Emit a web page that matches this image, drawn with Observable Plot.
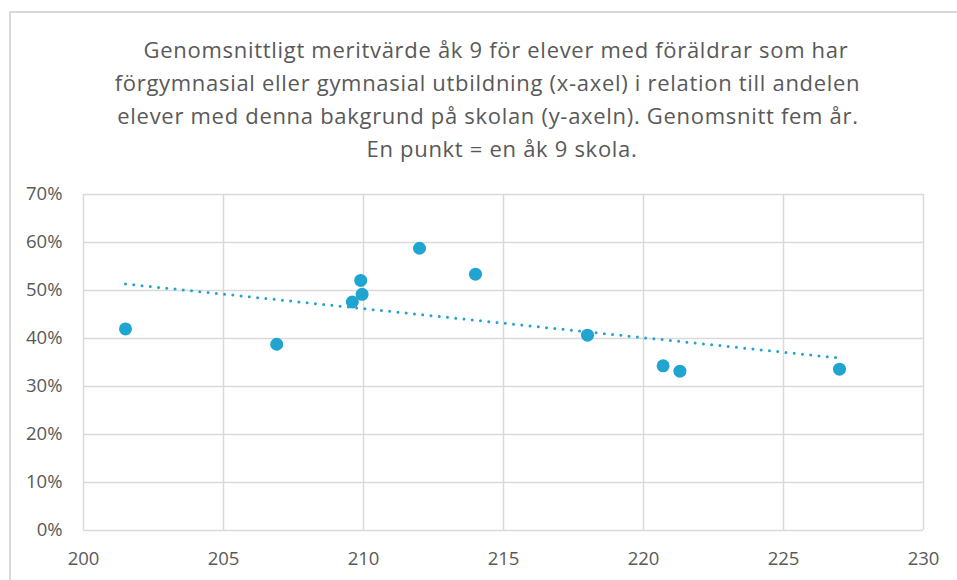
<!DOCTYPE html>
<html>
<head>
<meta charset="utf-8">
<script src="https://cdn.jsdelivr.net/npm/d3@7"></script>
<script src="https://cdn.jsdelivr.net/npm/@observablehq/plot@0.6"></script>
<style>
  html, body { margin: 0; padding: 0; background: #fff; overflow: hidden; width: 957px; height: 580px; }
  #frame { position: absolute; left: 9px; top: 11px; width: 948px; height: 569px; border-left: 2px solid #d9d9d9; border-top: 2px solid #d9d9d9; box-sizing: border-box; }
  #title { position: absolute; left: 47px; top: 33px; width: 910px; text-align: center; font-family: "Open Sans", sans-serif; font-size: 22px; letter-spacing: 0.7px; line-height: 33px; color: #595959; white-space: nowrap; }
  #title div { display: block; }
  #chart { position: absolute; left: 0; top: 175px; width: 957px; }
</style>
</head>
<body>
<div id="frame"></div>
<div id="title">
  <div style="padding-right:12px">Genomsnittligt meritvärde åk 9 för elever med föräldrar som har</div>
  <div style="padding-right:29px">förgymnasial eller gymnasial utbildning (x-axel) i relation till andelen</div>
  <div style="padding-right:28px">elever med denna bakgrund på skolan (y-axeln). Genomsnitt fem år.</div>
  <div>En punkt = en åk 9 skola.</div>
</div>
<div id="chart"></div>
<script>
// Meritvärde (x) per skola
const meritvarde = [201.5, 206.9, 209.6, 209.9, 209.95, 212.0, 214.0, 218.0, 220.7, 221.3, 227.0];
// Andel elever med denna bakgrund (y)
const andel = [0.420, 0.388, 0.476, 0.521, 0.492, 0.588, 0.534, 0.407, 0.343, 0.332, 0.336];
const xTicks = [200, 205, 210, 215, 220, 225, 230];
const yTicks = [0, 0.1, 0.2, 0.3, 0.4, 0.5, 0.6, 0.7];

const data = meritvarde.map((x, i) => ({x, y: andel[i]}));
const blue = "#1fa5cf";
const textColor = "#595959";

const chart = Plot.plot({
  width: 957,
  height: 405,
  marginTop: 19,
  marginBottom: 50,
  marginLeft: 83,
  marginRight: 34,
  style: {fontFamily: "'Open Sans', sans-serif", fontSize: "18.5px", color: textColor, background: "transparent"},
  x: {domain: [200, 230], label: null},
  y: {domain: [0, 0.7], label: null},
  marks: [
    Plot.gridX(xTicks, {stroke: "#d9d9d9", strokeOpacity: 1, strokeWidth: 1.5}),
    Plot.gridY(yTicks, {stroke: "#d9d9d9", strokeOpacity: 1, strokeWidth: 1.5}),
    Plot.axisX(xTicks, {tickSize: 0, tickPadding: 21, tickFormat: d => d, fontSize: 18.5, fill: textColor, label: null}),
    Plot.axisY(yTicks, {tickSize: 0, tickPadding: 21, tickFormat: d3.format(".0%"), fontSize: 18.5, fill: textColor, label: null}),
    Plot.linearRegressionY(data, {x: "x", y: "y", ci: 0, stroke: blue, strokeWidth: 3, strokeDasharray: "0 8.3", strokeLinecap: "round"}),
    Plot.dot(data, {x: "x", y: "y", r: 6.5, fill: blue})
  ]
});
document.getElementById("chart").appendChild(chart);
</script>
</body>
</html>
